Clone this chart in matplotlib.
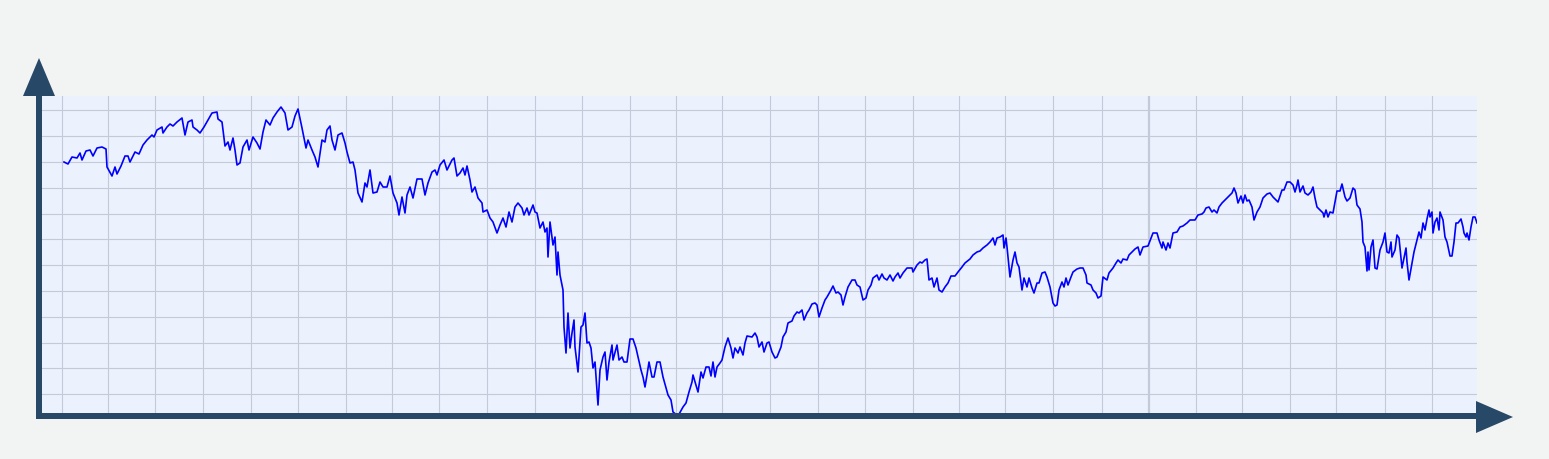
import matplotlib
matplotlib.use('Agg')
import numpy as np
import matplotlib.pyplot as plt
from matplotlib.patches import Rectangle, Polygon

# time positions and index level
day = [64, 68, 72, 77, 80, 82, 86, 90, 93, 97, 102, 106, 107, 112, 115, 117, 121, 125, 128, 130,
       135, 139, 143, 147, 152, 154, 157, 162, 163, 167, 170, 173, 177, 182, 185, 188, 192, 193, 197, 200,
       204, 208, 212, 217, 218, 222, 225, 228, 230, 233, 235, 237, 240, 243, 247, 249, 253, 257, 260, 263,
       266, 270, 273, 277, 281, 285, 288, 292, 295, 298,
       302, 306, 308, 312, 315, 318, 322, 325, 327, 330, 332, 335, 338, 342, 345, 347, 350, 353, 355, 358,
       362, 365, 367, 370, 373, 377, 380, 383, 387, 390, 393, 397, 399, 402, 405, 407, 410, 413, 417, 422,
       425, 428, 432, 435, 437, 440, 444, 447, 452, 454, 457, 460, 463, 465, 467, 470, 472, 475, 478, 482,
       483, 487, 490, 493, 497, 500, 503, 506, 509, 512, 515, 518, 522, 524, 527, 529, 533, 535, 537, 540,
       543, 545,
       547, 548, 550, 553, 555, 557, 558, 560, 563, 564, 566, 568, 570, 572, 574, 575, 578, 581, 583, 585,
       587, 589, 591, 593, 595, 598, 600, 603, 605, 607, 609, 612, 613, 617, 619, 622, 624, 627, 630, 633,
       636, 638, 641, 643, 645, 647, 649, 652, 654, 657, 660,
       663, 666, 668, 671, 673, 678, 683, 686, 689, 692, 693, 696, 698, 701, 703, 706, 709, 711, 713, 715,
       717, 720, 722, 725, 728, 731, 733, 735, 738, 740, 743, 745, 747, 752, 755, 757, 759, 762, 764, 767,
       769, 772, 775, 777, 781, 783, 786, 788, 792, 794, 797, 799, 802, 804, 807, 809, 812, 815, 817, 819,
       822, 825, 827, 831, 833, 836, 838, 841, 843, 845, 848, 852, 855, 857, 860, 863, 866, 868, 871, 873,
       877, 879, 882, 884, 887, 890, 893, 895, 898,
       900, 903, 907, 912, 913, 917, 920, 922, 925, 927, 929, 932, 934, 937, 939, 942, 945, 948, 951, 955,
       958, 962, 965, 970, 973, 977, 980, 983, 987, 990, 993, 995, 997, 1000, 1003, 1004, 1006, 1007, 1010, 1013,
       1015, 1017, 1019, 1022, 1024, 1027, 1029, 1032, 1034, 1037, 1039, 1042, 1045, 1047, 1050, 1053, 1055, 1057, 1059, 1062,
       1064, 1066, 1068, 1071, 1073, 1077, 1080, 1083, 1086, 1087, 1091, 1093, 1096, 1098, 1101, 1103, 1107, 1109, 1113, 1116,
       1118, 1121, 1123, 1127, 1129, 1132, 1135, 1138, 1140, 1143, 1148,
       1153, 1157, 1159, 1162, 1163, 1166, 1168, 1170, 1173, 1177, 1180, 1183, 1187, 1190, 1195, 1198, 1202, 1204, 1206, 1209,
       1212, 1214, 1217, 1219, 1222, 1225, 1228, 1232, 1234, 1236, 1238, 1241, 1243, 1245, 1247, 1249, 1252, 1254, 1257, 1260,
       1263, 1267, 1270, 1273, 1276, 1278, 1282, 1284, 1287, 1290, 1293, 1295, 1297, 1298, 1300, 1303, 1305, 1308, 1311, 1313,
       1315, 1317, 1320, 1323, 1324, 1326, 1328,
       1330, 1333, 1337, 1340, 1342, 1345, 1347, 1350, 1353, 1355, 1357, 1360, 1362, 1363, 1365, 1367, 1368, 1369, 1371, 1373,
       1375, 1377, 1380, 1383, 1385, 1387, 1389, 1391, 1392, 1395, 1397, 1399, 1402, 1404, 1406, 1407, 1409, 1412, 1414, 1417,
       1419, 1421, 1423, 1425, 1427, 1429, 1430, 1432, 1433, 1435, 1437, 1439, 1440, 1443, 1445, 1447, 1450, 1452, 1454, 1456,
       1458, 1461, 1463, 1464, 1466, 1467, 1469, 1471, 1473, 1475, 1477]

level = [258, 256, 263, 262, 267, 260, 269, 270, 264, 272, 273, 271, 253, 244, 253, 246, 254, 264, 264, 258,
         268, 266, 275, 280, 285, 283, 290, 293, 287, 293, 296, 294, 298, 302, 285, 298, 300, 293, 290, 287,
         293, 300, 307, 308, 301, 298, 274, 278, 270, 282, 270, 255, 257, 273, 280, 270, 283, 277, 271, 288,
         300, 295, 302, 308, 313, 307, 290, 293, 304, 311,
         292, 272, 280, 270, 263, 253, 280, 278, 290, 294, 280, 270, 285, 287, 277, 268, 257, 258, 250, 227,
         218, 237, 233, 250, 227, 228, 238, 233, 233, 244, 227, 217, 205, 223, 207, 225, 233, 222, 241, 241,
         225, 237, 248, 250, 245, 255, 260, 250, 260, 262, 244, 247, 252, 245, 254, 240, 228, 233, 222, 217,
         208, 210, 202, 198, 187, 195, 202, 193, 208, 198, 213, 217, 212, 205, 212, 205, 215, 208, 207, 192,
         198, 188,
         192, 163, 198, 175, 183, 145, 168, 145, 130, 93, 67, 107, 72, 87, 100, 73, 48, 93, 95, 107,
         77, 78, 72, 52, 58, 15, 50, 63, 68, 40, 58, 75, 60, 75, 60, 63, 58, 58, 81, 81,
         72, 63, 50, 43, 33, 45, 58, 43, 43, 58, 58,
         43, 32, 25, 20, 8, 4, 13, 17, 28, 38, 45, 35, 28, 48, 42, 53, 53, 44, 58, 43,
         53, 57, 60, 73, 82, 72, 62, 72, 67, 73, 65, 77, 84, 83, 87, 83, 73, 78, 68, 77,
         78, 68, 62, 63, 73, 83, 88, 97, 99, 104, 108, 107, 110, 100, 107, 110, 116, 117, 115, 103,
         112, 120, 123, 130, 134, 127, 128, 125, 115, 123, 133, 140, 140, 135, 133, 120, 122, 130, 135, 142,
         145, 140, 146, 142, 140, 145, 139, 143, 147,
         142, 147, 152, 152, 148, 155, 158, 157, 160, 161, 140, 142, 133, 142, 130, 128, 133, 137, 144, 144,
         148, 153, 157, 161, 165, 168, 169, 172, 175, 178, 182, 175, 182, 183, 185, 172, 182, 173, 143, 160,
         168, 157, 153, 130, 142, 133, 142, 132, 127, 137, 137, 147, 148, 143, 133, 117, 114, 115, 130, 138,
         133, 142, 135, 143, 148, 151, 152, 152, 145, 137, 135, 130, 127, 122, 124, 143, 140, 147, 152, 157,
         160, 157, 161, 160, 165, 168, 171, 173, 165, 173, 174,
         187, 187, 180, 172, 178, 170, 177, 172, 187, 188, 193, 194, 197, 200, 200, 205, 206, 208, 212, 213,
         208, 210, 207, 213, 217, 220, 223, 227, 232, 227, 217, 224, 217, 225, 219, 220, 213, 200, 208, 213,
         222, 226, 227, 223, 220, 218, 230, 230, 238, 238, 235, 228, 235, 240, 228, 234, 227, 225, 228, 233,
         222, 213, 210, 207, 203, 210, 203,
         208, 207, 229, 229, 236, 223, 219, 222, 232, 230, 215, 211, 198, 178, 173, 149, 168, 150, 173, 180,
         152, 151, 170, 178, 187, 168, 167, 178, 163, 170, 185, 182, 152, 162, 172, 158, 140, 157, 168, 180,
         188, 182, 197, 190, 201, 210, 203, 208, 187, 198, 202, 190, 208, 200, 183, 178, 164, 164, 178, 197,
         197, 201, 193, 187, 183, 187, 180, 193, 203, 203, 197]

# vertical grid positions (irregular, as in the reference)
grid_x = [62, 108, 155, 203, 251, 298, 346, 392, 439, 487, 535, 582, 630, 676, 722, 770, 818, 865,
          913, 959, 1005, 1053, 1102, 1149, 1196, 1242, 1290, 1336, 1385, 1432]
grid_y = np.arange(1, 13) * 25.8

W, H = 1549, 459
fig = plt.figure(figsize=(W / 100, H / 100), dpi=100, facecolor='#f2f4f4')

ax = fig.add_axes([42 / W, 1 - 413 / H, (1477 - 42) / W, (413 - 96) / H])
ax.set_facecolor('#ecf2fd')
for x in grid_x:
    ax.axvline(x, color='#c5cad8', lw=1.6 if x == 1149 else 0.8, zorder=1)
for y in grid_y:
    ax.axhline(y, color='#c5cad8', lw=0.8, zorder=1)
ax.plot(day, level, color='#0000ff', lw=1.2, zorder=2)
ax.set_xlim(42, 1477)
ax.set_ylim(7, 324)
ax.set_xticks([])
ax.set_yticks([])
for s in ax.spines.values():
    s.set_visible(False)

# axis arrows drawn in pixel coordinates
ov = fig.add_axes([0, 0, 1, 1], zorder=5)
ov.set_xlim(0, W)
ov.set_ylim(H, 0)
ov.axis('off')
ov.patch.set_alpha(0)
axis_color = '#284867'
ov.add_patch(Rectangle((36, 95), 6, 324, color=axis_color, lw=0))
ov.add_patch(Rectangle((36, 413), 1442, 6, color=axis_color, lw=0))
ov.add_patch(Polygon([(23, 96), (55, 96), (39, 58)], closed=True, color=axis_color, lw=0))
ov.add_patch(Polygon([(1476, 401), (1476, 433), (1513, 417)], closed=True, color=axis_color, lw=0))

fig.savefig('out.png', dpi=100, facecolor=fig.get_facecolor())
